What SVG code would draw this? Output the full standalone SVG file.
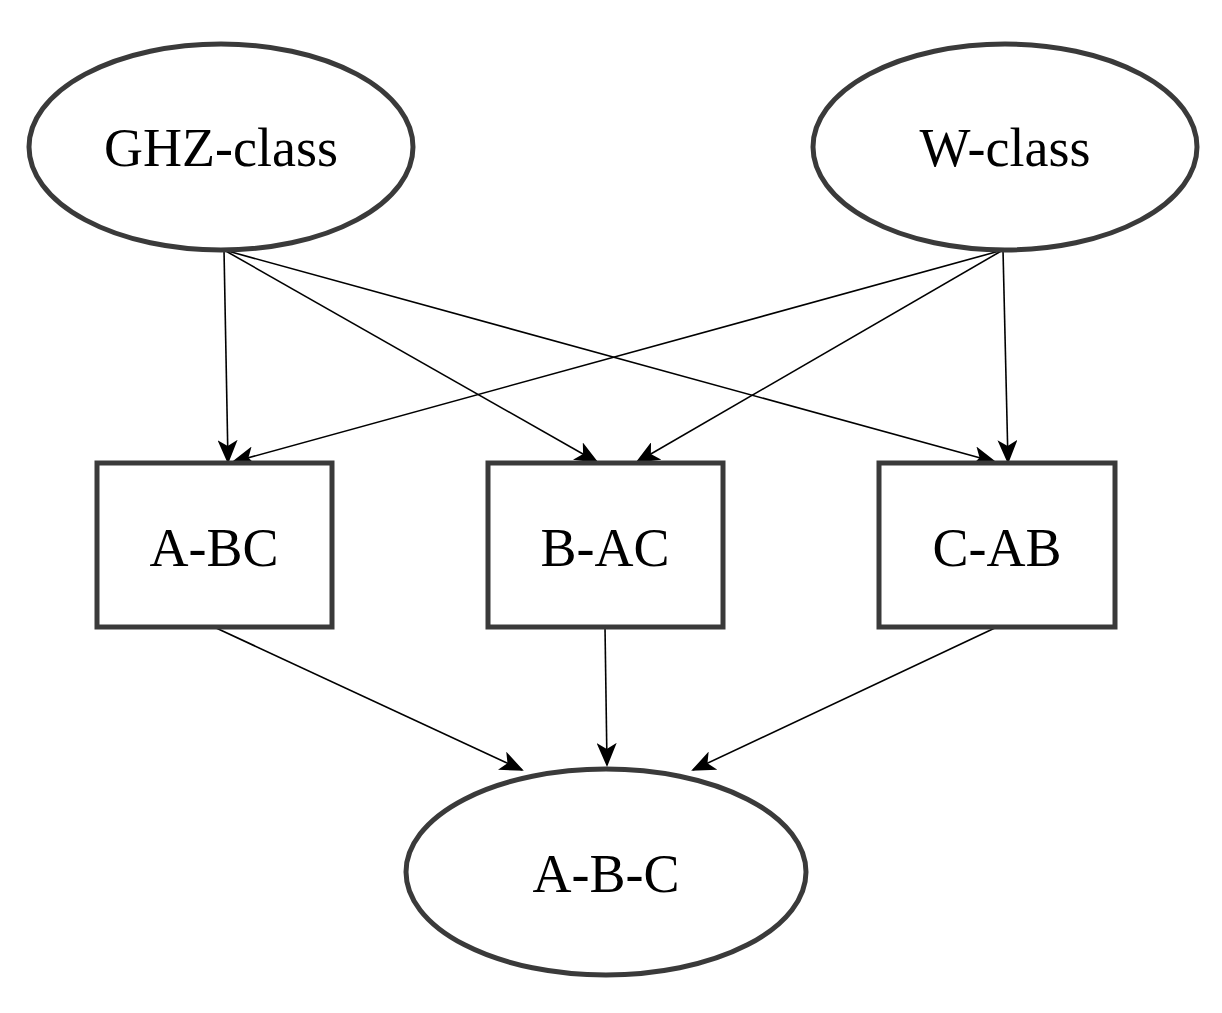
<svg xmlns="http://www.w3.org/2000/svg" width="1222" height="1013" viewBox="0 0 1222 1013">
<style>
.n{fill:#fff;stroke:#3a3a3a;stroke-width:5}
.t{font-family:"Liberation Serif",serif;font-size:54px;fill:#000;text-anchor:middle}
.e{stroke:#000;stroke-width:1.6;fill:none;marker-end:url(#a)}
</style>
<defs><marker id="a" markerWidth="12" markerHeight="10" refX="11" refY="5" orient="auto" markerUnits="userSpaceOnUse"><path d="M0,0 L12,5 L0,10 L3,5 z" fill="#000" transform="scale(2)" style="display:none"/><path d="M0,0 L12,5 L0,10 L3.5,5 z" fill="#000"/></marker></defs>
<rect width="1222" height="1013" fill="#fff"/>
<g id="edges">
<path class="e" marker-end="url(#b)" d="M224,250 L228,462"/>
<path class="e" d="M224,250 L597,462"/>
<path class="e" d="M224,250 L995,462"/>
<path class="e" d="M1003,250 L233,462"/>
<path class="e" d="M1003,250 L637,462"/>
<path class="e" d="M1003,250 L1008,462"/>
<path class="e" d="M214,627 L522,770"/>
<path class="e" d="M605,627 L607,765"/>
<path class="e" d="M997,627 L693,770"/>
</g>
<defs><marker id="b" markerWidth="24" markerHeight="20" refX="22" refY="10" orient="auto" markerUnits="userSpaceOnUse"><path d="M0,0 L24,10 L0,20 L6,10 z" fill="#000"/></marker></defs>
<style>.e{marker-end:url(#b)}</style>
<g id="ghz"><ellipse class="n" cx="221" cy="147" rx="192" ry="103"/><text class="t" x="221" y="166">GHZ-class</text></g>
<g id="w"><ellipse class="n" cx="1005" cy="147" rx="192" ry="103"/><text class="t" x="1005" y="166">W-class</text></g>
<g id="abc1"><rect class="n" x="97" y="463" width="235" height="164"/><text class="t" x="214" y="566">A-BC</text></g>
<g id="bac"><rect class="n" x="488" y="463" width="235" height="164"/><text class="t" x="605" y="566">B-AC</text></g>
<g id="cab"><rect class="n" x="879" y="463" width="236" height="164"/><text class="t" x="997" y="566">C-AB</text></g>
<g id="abc"><ellipse class="n" cx="606" cy="872" rx="200" ry="103"/><text class="t" x="606" y="892">A-B-C</text></g>
</svg>
